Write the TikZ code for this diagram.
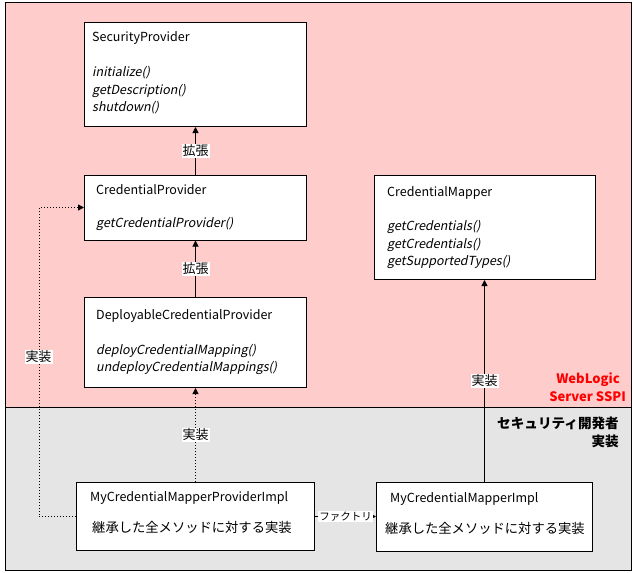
\documentclass[tikz,border=0pt]{standalone}
\usepackage{fontspec}
\setmainfont{Noto Sans CJK JP}
\newfontfamily\itf[FakeSlant=0.2]{Noto Sans CJK JP}
\usetikzlibrary{arrows.meta}
\definecolor{pinkbg}{RGB}{255,204,204}
\definecolor{greybg}{RGB}{229,229,229}
\definecolor{sspired}{RGB}{255,0,0}
\begin{document}
\begin{tikzpicture}[x=1pt,y=-1pt,
  box/.style={draw, fill=white, line width=1pt, inner sep=0pt},
  txt/.style={anchor=west, inner sep=0pt, font=\fontsize{12.5}{14}\selectfont},
  mth/.style={anchor=west, inner sep=0pt, font=\fontsize{12.5}{14}\selectfont\itf},
  jtxt/.style={anchor=west, inner sep=0pt, font=\fontsize{13.3}{15}\selectfont},
  lbl/.style={fill=white, inner sep=1pt, font=\fontsize{13}{15}\selectfont},
  arr/.style={line width=1pt, -{Triangle[length=6pt,width=6pt]}},
  darr/.style={arr, dotted}]
\useasboundingbox (0,0) rectangle (633,573);
% regions
\fill[pinkbg] (5.5,2.5) rectangle (631.5,407.5);
\fill[greybg] (5.5,407.5) rectangle (631.5,570.5);
\draw[line width=1pt] (5.5,2.5) rectangle (631.5,570.5);
\draw[line width=1pt] (5.5,407.5) -- (631.5,407.5);
% region captions
\node[anchor=east, inner sep=0pt, text=sspired, font=\fontsize{13}{15}\selectfont\bfseries] (ws1) at (620,380) {WebLogic};
\node[anchor=east, inner sep=0pt, text=sspired, font=\fontsize{13}{15}\selectfont\bfseries] (ws2) at (626,397) {Server SSPI};
\node[anchor=east, inner sep=0pt, font=\fontsize{13.6}{15}\selectfont\bfseries] (dev1) at (619,423) {セキュリティ開発者};
\node[anchor=east, inner sep=0pt, font=\fontsize{13.6}{15}\selectfont\bfseries] (dev2) at (619,441) {実装};
% boxes
\node[box, minimum width=222pt, minimum height=104pt] (sp) at (195.5,74.5) {};
\node[box, minimum width=222pt, minimum height=65pt] (cp) at (195.5,207.5) {};
\node[box, minimum width=222pt, minimum height=90pt] (dcp) at (195.5,342.5) {};
\node[box, minimum width=221pt, minimum height=104pt] (cm) at (484.5,227.5) {};
\node[box, minimum width=238pt, minimum height=68pt] (mpi) at (195.5,516.5) {};
\node[box, minimum width=216pt, minimum height=69pt] (mi) at (484.5,516.5) {};
% texts
\node[txt] (sp1) at (92,38) {SecurityProvider};
\node[mth] (sp2) at (92,73) {initialize()};
\node[mth] (sp3) at (92,91) {getDescription()};
\node[mth] (sp4) at (92,108) {shutdown()};
\node[txt] (cp1) at (96,190) {CredentialProvider};
\node[mth] (cp2) at (96,224) {getCredentialProvider()};
\node[txt] (dc1) at (96,316) {DeployableCredentialProvider};
\node[mth] (dc2) at (96,351) {deployCredentialMapping()};
\node[mth] (dc3) at (96,368) {undeployCredentialMappings()};
\node[txt] (cm1) at (387,193) {CredentialMapper};
\node[mth] (cm2) at (387,227) {getCredentials()};
\node[mth] (cm3) at (387,245) {getCredentials()};
\node[mth] (cm4) at (387,262) {getSupportedTypes()};
\node[txt] (mp1) at (90,498) {MyCredentialMapperProviderImpl};
\node[jtxt] (mp2) at (92,527) {継承した全メソッドに対する実装};
\node[txt] (mi1) at (390,499) {MyCredentialMapperImpl};
\node[jtxt] (mi2) at (385,528) {継承した全メソッドに対する実装};
% connectors
\draw[arr] (cp.north) -- node[lbl] (l1) {拡張} (sp.south);
\draw[arr] (dcp.north) -- node[lbl] (l2) {拡張} (cp.south);
\draw[darr] (mpi.north) -- node[lbl] (l3) {実装} (dcp.south);
\draw[darr] (mpi.west) -- ++(-37,0) |- (cp.west);
\node[lbl] (l4) at (38.5,357) {実装};
\draw[arr] (mi.north) -- node[lbl] (l5) {実装} (cm.south);
\draw[arr] (mpi.east) -- node[lbl, font=\fontsize{10.5}{12}\selectfont] (l6) {ファクトリ} (mi.west);
\end{tikzpicture}
\end{document}
